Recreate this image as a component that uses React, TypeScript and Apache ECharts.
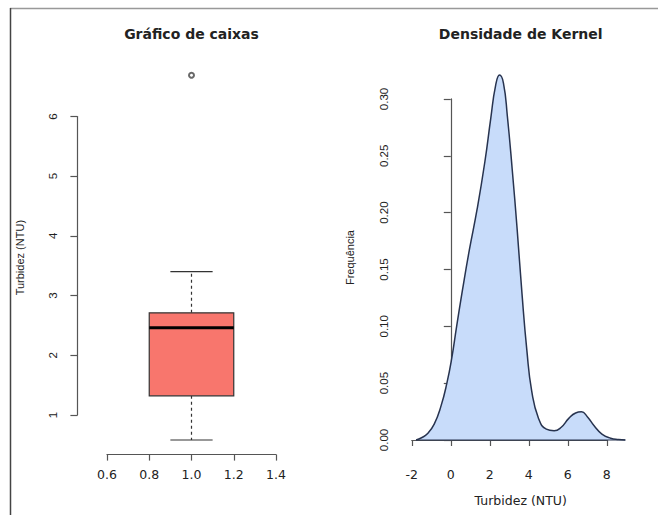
import React, { useEffect, useRef } from "react";
import * as echarts from "echarts";

// ---- Box plot data (Turbidez, NTU) ----
const boxStats = [0.58, 1.32, 2.46, 2.71, 3.4]; // lower whisker, Q1, median, Q3, upper whisker
const boxOutliers = [6.69];
const boxPosition = 1;
const boxXTicks = [0.6, 0.8, 1.0, 1.2, 1.4];
const boxYTicks = [1, 2, 3, 4, 5, 6];

// ---- Kernel density data ----
const densX = [
  -1.78, -1.5, -1.2, -0.85, -0.5, -0.2, 0.05, 0.3, 0.6, 0.95, 1.35, 1.75, 2.05, 2.3, 2.5,
  2.7, 2.9, 3.15, 3.4, 3.65, 3.9, 4.15, 4.5, 4.9, 5.3, 5.65, 6.05, 6.4, 6.7, 7.0, 7.35,
  7.75, 8.2, 8.6, 8.95,
];
const densY = [
  0.0, 0.002, 0.0055, 0.014, 0.03, 0.05, 0.072, 0.1, 0.132, 0.167, 0.203, 0.245, 0.283,
  0.312, 0.321, 0.314, 0.285, 0.238, 0.186, 0.129, 0.079, 0.043, 0.019, 0.0095, 0.0082,
  0.011, 0.019, 0.0238, 0.0248, 0.0205, 0.0125, 0.0052, 0.0016, 0.0004, 0.0,
];
const densXTicks = [-2, 0, 2, 4, 6, 8];
const densYTicks = [0, 0.05, 0.1, 0.15, 0.2, 0.25, 0.3];

const titles = ["Gráfico de caixas", "Densidade de Kernel"];
const yNames = ["Turbidez (NTU)", "Frequência"];
const xNameRight = "Turbidez (NTU)";

// ---- layout / style ----
const BOX_HALF = 0.2;
const CAP_HALF = 0.1;
const plotL = { left: 77.4, top: 60.7, width: 228.2, height: 393.9 };
const plotR = { left: 407.7, top: 60.5, width: 226, height: 394.1 };
const AXIS_COLOR = "#555";
const LABEL_COLOR = "#222";
const H_FONT = "DejaVu Sans";
const V_FONT = "Liberation Sans, Arial, sans-serif";

function ext(lo: number, hi: number): [number, number] {
  const d = (hi - lo) * 0.04;
  return [lo - d, hi + d];
}

function subGrid(p: any, xr: number[], yr: number[], xt: number[], yt: number[]) {
  const sx = p.width / (xr[1] - xr[0]);
  const sy = p.height / (yr[1] - yr[0]);
  const left = p.left + (xt[0] - xr[0]) * sx;
  const width = (xt[xt.length - 1] - xt[0]) * sx;
  const top = p.top + (yr[1] - yt[yt.length - 1]) * sy;
  const height = (yt[yt.length - 1] - yt[0]) * sy;
  return {
    grid: { left, top, width, height },
    xOffset: p.top + p.height - (top + height),
    yOffset: left - p.left,
  };
}

export default function App() {
  const ref = useRef<HTMLDivElement>(null);
  useEffect(() => {
    const chart = echarts.init(ref.current!, null, { renderer: "svg" });

    const allBox = [...boxStats, ...boxOutliers];
    const xrL = ext(boxPosition - 0.5, boxPosition + 0.5);
    const yrL = ext(Math.min(...allBox), Math.max(...allBox));
    const xrR = ext(Math.min(...densX), Math.max(...densX));
    const yrR = ext(Math.min(...densY), Math.max(...densY));

    const aL = subGrid(plotL, xrL, yrL, boxXTicks, boxYTicks);
    const aR = subGrid(plotR, xrR, yrR, densXTicks, densYTicks);

    const hidden = {
      axisLine: { show: false },
      axisTick: { show: false },
      axisLabel: { show: false },
      splitLine: { show: false },
    };

    const xTickAxis = (grid: number, ticks: number[], offset: number, dec: number) => ({
      type: "value",
      gridIndex: grid,
      min: ticks[0],
      max: ticks[ticks.length - 1],
      interval: ticks[1] - ticks[0],
      offset,
      axisLine: { show: true, lineStyle: { color: AXIS_COLOR, width: 1.2 } },
      axisTick: { show: true, length: 6, lineStyle: { color: AXIS_COLOR, width: 1.2 } },
      axisLabel: {
        show: true,
        margin: 13,
        color: LABEL_COLOR,
        fontFamily: H_FONT,
        fontSize: 12.5,
        formatter: (v: number) => v.toFixed(dec),
      },
      splitLine: { show: false },
    });

    const yTickAxis = (grid: number, ticks: number[], offset: number, dec: number) => ({
      type: "value",
      gridIndex: grid,
      min: ticks[0],
      max: ticks[ticks.length - 1],
      interval: ticks[1] - ticks[0],
      offset,
      axisLine: { show: true, lineStyle: { color: AXIS_COLOR, width: 1.2 } },
      axisTick: { show: true, length: 7, lineStyle: { color: AXIS_COLOR, width: 1.2 } },
      axisLabel: {
        show: true,
        rotate: 90,
        margin: 18,
        color: LABEL_COLOR,
        fontFamily: V_FONT,
        fontSize: 11.5,
        formatter: (v: number) => v.toFixed(dec),
      },
      splitLine: { show: false },
    });

    const option: any = {
      animation: false,
      backgroundColor: "#fff",
      title: [
        {
          text: titles[0],
          left: plotL.left + plotL.width / 2,
          top: 27,
          textAlign: "center",
          padding: 0,
          textStyle: { fontFamily: H_FONT, fontWeight: "bold", fontSize: 14, color: "#222" },
        },
        {
          text: titles[1],
          left: plotR.left + plotR.width / 2,
          top: 27,
          textAlign: "center",
          padding: 0,
          textStyle: { fontFamily: H_FONT, fontWeight: "bold", fontSize: 14, color: "#222" },
        },
      ],
      grid: [
        { ...plotL, outerBoundsMode: "none", containLabel: false },
        { ...aL.grid, outerBoundsMode: "none", containLabel: false },
        { ...plotR, outerBoundsMode: "none", containLabel: false },
        { ...aR.grid, outerBoundsMode: "none", containLabel: false },
      ],
      xAxis: [
        { type: "value", gridIndex: 0, min: xrL[0], max: xrL[1], ...hidden },
        xTickAxis(1, boxXTicks, aL.xOffset, 1),
        {
          type: "value",
          gridIndex: 2,
          min: xrR[0],
          max: xrR[1],
          ...hidden,
          name: xNameRight,
          nameLocation: "middle",
          nameGap: 39,
          nameTextStyle: { fontFamily: H_FONT, fontSize: 12.5, color: LABEL_COLOR },
        },
        xTickAxis(3, densXTicks, aR.xOffset, 0),
      ],
      yAxis: [
        {
          type: "value",
          gridIndex: 0,
          min: yrL[0],
          max: yrL[1],
          ...hidden,
          name: yNames[0],
          nameLocation: "middle",
          nameGap: 52,
          nameTextStyle: { fontFamily: V_FONT, fontSize: 11, color: LABEL_COLOR },
        },
        yTickAxis(1, boxYTicks, aL.yOffset, 0),
        {
          type: "value",
          gridIndex: 2,
          min: yrR[0],
          max: yrR[1],
          ...hidden,
          name: yNames[1],
          nameLocation: "middle",
          nameGap: 52,
          nameTextStyle: { fontFamily: V_FONT, fontSize: 11, color: LABEL_COLOR },
        },
        yTickAxis(3, densYTicks, aR.yOffset, 2),
      ],
      series: [
        {
          type: "custom",
          name: "Turbidez",
          xAxisIndex: 0,
          yAxisIndex: 0,
          clip: false,
          data: [[boxPosition, ...boxStats]],
          encode: { x: 0, y: [1, 2, 3, 4, 5] },
          renderItem: (_params: any, api: any) => {
            const x = api.value(0);
            const lo = api.value(1);
            const q1 = api.value(2);
            const med = api.value(3);
            const q3 = api.value(4);
            const hi = api.value(5);
            const c = (a: number, b: number) => api.coord([a, b]);
            const ln = (a: number[], b: number[], style: any) => ({
              type: "line",
              shape: { x1: a[0], y1: a[1], x2: b[0], y2: b[1] },
              style,
            });
            const solid = { stroke: "#333", lineWidth: 1.2 };
            const dashed = { stroke: "#333", lineWidth: 1.2, lineDash: [3, 3] };
            const tl = c(x - BOX_HALF, q3);
            const br = c(x + BOX_HALF, q1);
            return {
              type: "group",
              children: [
                ln(c(x, q3), c(x, hi), dashed),
                ln(c(x, q1), c(x, lo), dashed),
                ln(c(x - CAP_HALF, hi), c(x + CAP_HALF, hi), solid),
                ln(c(x - CAP_HALF, lo), c(x + CAP_HALF, lo), solid),
                {
                  type: "rect",
                  shape: { x: tl[0], y: tl[1], width: br[0] - tl[0], height: br[1] - tl[1] },
                  style: { fill: "#F8766D", stroke: "#333", lineWidth: 1.2 },
                },
                ln(c(x - BOX_HALF, med), c(x + BOX_HALF, med), { stroke: "#000", lineWidth: 3 }),
              ],
            };
          },
        },
        {
          type: "scatter",
          name: "Outliers",
          xAxisIndex: 0,
          yAxisIndex: 0,
          clip: false,
          symbol: "emptyCircle",
          symbolSize: 5,
          itemStyle: { color: "#444", borderColor: "#444", borderWidth: 0.9 },
          data: boxOutliers.map((v) => [boxPosition, v]),
        },
        {
          type: "line",
          name: "Densidade",
          xAxisIndex: 2,
          yAxisIndex: 2,
          smooth: 0.5,
          symbol: "none",
          clip: false,
          lineStyle: { color: "#27334F", width: 1.5 },
          areaStyle: { color: "#C8DCFA", opacity: 1 },
          data: densX.map((x, i) => [x, densY[i]]),
          z: 2,
        },
        {
          type: "line",
          name: "Base",
          xAxisIndex: 2,
          yAxisIndex: 2,
          symbol: "none",
          clip: false,
          lineStyle: { color: "#27334F", width: 1.2 },
          data: [
            [densX[0], 0],
            [densX[densX.length - 1], 0],
          ],
          z: 3,
        },
      ],
      graphic: [
        {
          type: "line",
          shape: { x1: 10, y1: 8.5, x2: 658, y2: 8.5 },
          style: { stroke: "#999", lineWidth: 1.5 },
          silent: true,
        },
        {
          type: "line",
          shape: { x1: 10.5, y1: 8, x2: 10.5, y2: 515 },
          style: { stroke: "#444", lineWidth: 1.5 },
          silent: true,
        },
      ],
    };

    chart.setOption(option);
    return () => chart.dispose();
  }, []);

  return (
    <div
      ref={ref}
      style={{ position: "fixed", left: 0, top: 0, width: 658, height: 515, background: "#fff" }}
    />
  );
}
